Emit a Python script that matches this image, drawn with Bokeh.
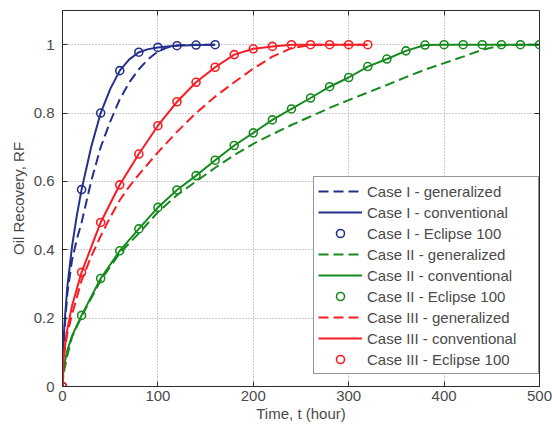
from bokeh.embed import file_html
from bokeh.models import (FixedTicker, Legend, LegendItem, LinearAxis,
                          NumeralTickFormatter, Range1d)
from bokeh.plotting import figure
from bokeh.resources import INLINE

# ---- data -----------------------------------------------------------------
x_ticks = [0, 100, 200, 300, 400, 500]
y_ticks = [0, 0.2, 0.4, 0.6, 0.8, 1.0]

# Case I
t_gen_I = [0, 1, 2, 5, 10, 15, 20, 25, 30, 40, 50, 60, 70, 80, 90, 100, 110, 120, 140, 160]
rf_gen_I = [0, 0.11, 0.16, 0.27, 0.37, 0.43, 0.48, 0.54, 0.60, 0.70, 0.775, 0.84, 0.89,
            0.928, 0.958, 0.98, 0.992, 0.998, 1.0, 1.0]
t_conv_I = [0, 1, 2, 5, 10, 15, 20, 30, 40, 50, 60, 70, 80, 90, 100, 110, 120, 140, 160]
rf_conv_I = [0, 0.13, 0.18, 0.29, 0.41, 0.50, 0.576, 0.70, 0.80, 0.87, 0.924, 0.957,
             0.978, 0.987, 0.992, 0.995, 0.997, 0.999, 1.0]
t_ecl_I = [0, 20, 40, 60, 80, 100, 120, 140, 160]
rf_ecl_I = [0, 0.576, 0.80, 0.924, 0.978, 0.992, 0.997, 0.999, 1.0]

# Case II
t_gen_II = [0, 1, 2, 5, 10, 20, 40, 60, 80, 100, 120, 140, 160, 180, 200, 220, 240, 260,
            280, 300, 320, 340, 360, 380, 400, 420, 440, 460, 480, 500]
rf_gen_II = [0, 0.035, 0.05, 0.09, 0.145, 0.205, 0.31, 0.39, 0.448, 0.51, 0.56, 0.60, 0.64,
             0.677, 0.71, 0.738, 0.765, 0.79, 0.815, 0.838, 0.86, 0.882, 0.905, 0.927,
             0.946, 0.965, 0.985, 0.998, 1.0, 1.0]
t_conv_II = [0, 1, 2, 5, 10, 20, 40, 60, 80, 100, 120, 140, 160, 180, 200, 220, 240, 260,
             280, 300, 320, 340, 360, 380, 400, 420, 440, 460, 480, 500]
rf_conv_II = [0, 0.047, 0.066, 0.105, 0.148, 0.208, 0.316, 0.397, 0.461, 0.524, 0.575,
              0.617, 0.662, 0.705, 0.742, 0.78, 0.812, 0.844, 0.877, 0.904, 0.936, 0.958,
              0.982, 0.999, 1.0, 1.0, 1.0, 1.0, 1.0, 1.0]
t_ecl_II = [0, 20, 40, 60, 80, 100, 120, 140, 160, 180, 200, 220, 240, 260, 280, 300, 320,
            340, 360, 380, 400, 420, 440, 460, 480, 500]
rf_ecl_II = [0, 0.208, 0.316, 0.397, 0.461, 0.524, 0.575, 0.617, 0.662, 0.705, 0.742, 0.78,
             0.812, 0.844, 0.877, 0.904, 0.936, 0.958, 0.982, 0.999, 1.0, 1.0, 1.0, 1.0,
             1.0, 1.0]

# Case III
t_gen_III = [0, 1, 2, 5, 10, 20, 30, 40, 50, 60, 70, 80, 100, 120, 140, 160, 180, 200, 220,
             240, 260, 280, 300, 320]
rf_gen_III = [0, 0.07, 0.10, 0.155, 0.21, 0.31, 0.38, 0.44, 0.495, 0.545, 0.585, 0.62,
              0.685, 0.745, 0.80, 0.848, 0.89, 0.93, 0.965, 0.99, 0.999, 1.0, 1.0, 1.0]
t_conv_III = [0, 1, 2, 5, 10, 20, 40, 60, 80, 100, 120, 140, 160, 180, 200, 220, 240, 260,
              280, 300, 320]
rf_conv_III = [0, 0.075, 0.106, 0.167, 0.236, 0.334, 0.48, 0.59, 0.68, 0.763, 0.833, 0.89,
               0.934, 0.971, 0.988, 0.995, 1.0, 1.0, 1.0, 1.0, 1.0]
t_ecl_III = [0, 20, 40, 60, 80, 100, 120, 140, 160, 180, 200, 220, 240, 260, 280, 300, 320]
rf_ecl_III = [0, 0.334, 0.48, 0.59, 0.68, 0.763, 0.833, 0.89, 0.934, 0.971, 0.988, 0.995,
              1.0, 1.0, 1.0, 1.0, 1.0]

cases = [
    ("Case I", "#24318c", t_gen_I, rf_gen_I, t_conv_I, rf_conv_I, t_ecl_I, rf_ecl_I),
    ("Case II", "#168a1e", t_gen_II, rf_gen_II, t_conv_II, rf_conv_II, t_ecl_II, rf_ecl_II),
    ("Case III", "#fa1c22", t_gen_III, rf_gen_III, t_conv_III, rf_conv_III, t_ecl_III, rf_ecl_III),
]

FONT = "Liberation Sans"
TEXT = "#4a4a4a"
FRAME = "#2b2b2b"

# ---- figure ---------------------------------------------------------------
p = figure(width=552, height=426, output_backend="svg", toolbar_location=None,
           x_range=Range1d(0, 500), y_range=Range1d(0, 1.1),
           min_border_left=62, min_border_right=13, min_border_top=10,
           min_border_bottom=40, background_fill_color="white",
           border_fill_color="white")

p.outline_line_color = FRAME
p.outline_line_width = 1

p.xaxis.ticker = FixedTicker(ticks=x_ticks)
p.yaxis.ticker = FixedTicker(ticks=y_ticks)
p.yaxis.formatter = NumeralTickFormatter(format="0.[0]")
for ax in (p.xaxis[0], p.yaxis[0]):
    ax.axis_line_color = FRAME
    ax.major_tick_line_color = FRAME
    ax.major_tick_in = 5
    ax.major_tick_out = 0
    ax.minor_tick_line_color = None
    ax.major_label_text_font = FONT
    ax.major_label_text_font_size = "15px"
    ax.major_label_text_color = TEXT
    ax.axis_label_text_font = FONT
    ax.axis_label_text_font_size = "15px"
    ax.axis_label_text_font_style = "normal"
    ax.axis_label_text_color = TEXT
p.xaxis.major_label_standoff = 4
p.yaxis.major_label_standoff = 8
p.xaxis.axis_label = "Time, t (hour)"
p.xaxis.axis_label_standoff = 1
p.yaxis.axis_label = "Oil Recovery, RF"
p.yaxis.axis_label_standoff = 4

# tick marks (no labels) on the top and right edges of the box
for loc, tk in (("right", y_ticks), ("above", x_ticks)):
    extra = LinearAxis(ticker=FixedTicker(ticks=tk), major_tick_in=5, major_tick_out=0,
                       minor_tick_line_color=None, axis_line_color=None,
                       major_tick_line_color=FRAME, major_label_standoff=0,
                       major_label_overrides={t: "" for t in tk})
    p.add_layout(extra, loc)

for g in (p.xgrid[0], p.ygrid[0]):
    g.grid_line_color = "#9a9a9a"
    g.grid_line_dash = "1 2"
    g.grid_line_width = 1
p.xgrid.ticker = FixedTicker(ticks=x_ticks)
p.ygrid.ticker = FixedTicker(ticks=y_ticks)

items = []
for name, color, tg, rg, tc, rc, te, re in cases:
    r_gen = p.line(tg, rg, line_color=color, line_width=2, line_dash="10 5")
    r_conv = p.line(tc, rc, line_color=color, line_width=2)
    r_ecl = p.scatter(te, re, marker="circle", size=8, fill_color=None,
                      line_color=color, line_width=1.6)
    items.append(LegendItem(label=f"{name} - generalized", renderers=[r_gen]))
    items.append(LegendItem(label=f"{name} - conventional", renderers=[r_conv]))
    items.append(LegendItem(label=f"{name} - Eclipse 100", renderers=[r_ecl]))

legend = Legend(items=items, location=(251, 12), orientation="vertical",
                border_line_color=FRAME, border_line_width=1,
                background_fill_color="white", background_fill_alpha=1.0,
                label_text_font=FONT, label_text_font_size="15px",
                label_text_color=TEXT, glyph_width=44, glyph_height=20,
                label_height=20, label_width=167, label_standoff=5,
                spacing=1, padding=4, margin=0)
p.add_layout(legend)

open("out.html", "w").write(file_html(p, INLINE))
